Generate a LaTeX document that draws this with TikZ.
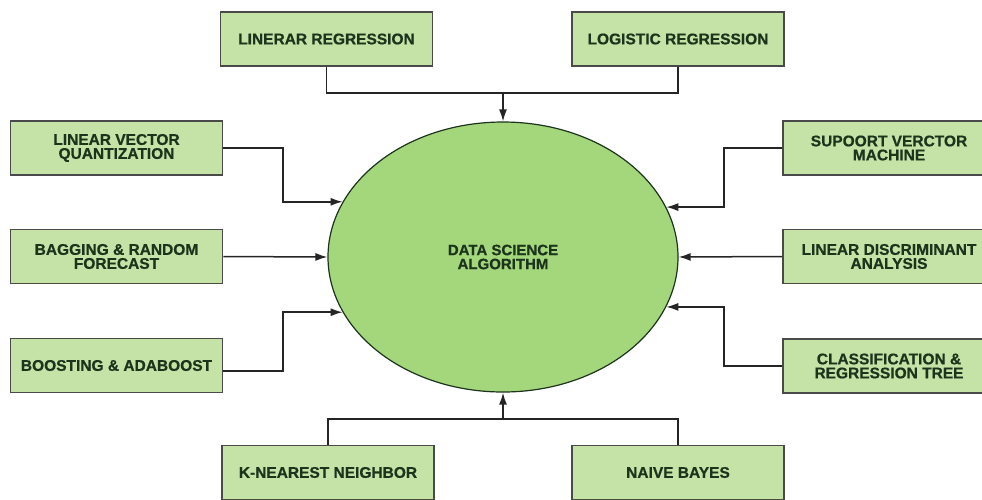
\documentclass[tikz,border=0pt]{standalone}
\usepackage{fontspec}
\setmainfont{Liberation Sans}[BoldFeatures={FakeBold=0.6}]
\usetikzlibrary{shapes.geometric,arrows.meta}
\definecolor{boxfill}{HTML}{C5E3A6}
\definecolor{ellfill}{HTML}{A4D67C}
\definecolor{boxdraw}{HTML}{4A4A4A}
\definecolor{txt}{HTML}{1C331C}
\definecolor{wire}{HTML}{252525}
\tikzset{
  algbox/.style={draw=boxdraw, line width=1.6pt, fill=boxfill, rectangle,
    minimum width=212pt, minimum height=54pt, inner sep=0pt, align=center,
    text=txt, font=\fontsize{15.5}{14}\selectfont\bfseries},
  center/.style={draw=txt, line width=1.2pt, fill=ellfill, ellipse,
    minimum width=350pt, minimum height=270pt, inner sep=0pt, align=center,
    text=txt, font=\fontsize{15}{14}\selectfont\bfseries},
  wireline/.style={draw=wire, line width=1.5pt},
  arr/.style={wireline, -{Latex[length=12pt,width=8pt]}}
}
\begin{document}
\begin{tikzpicture}[x=1pt,y=-1pt]
\clip (0,0) rectangle (982,499);
\useasboundingbox (0,0) rectangle (982,499);

\node[center] (ell) at (503,257) {DATA SCIENCE\\ALGORITHM};

\node[algbox] (lr)   at (326.5,39)  {LINERAR REGRESSION};
\node[algbox] (logr) at (678,39)    {LOGISTIC REGRESSION};

\node[algbox] (lvq)   at (116.5,148)   {LINEAR VECTOR\\QUANTIZATION};
\node[algbox] (bag)   at (116.5,256.5) {BAGGING \& RANDOM\\FORECAST};
\node[algbox] (boost) at (116.5,365.5) {BOOSTING \& ADABOOST};

\node[algbox] (svm)  at (889,148)   {SUPOORT VERCTOR\\MACHINE};
\node[algbox] (lda)  at (889,256.5) {LINEAR DISCRIMINANT\\ANALYSIS};
\node[algbox] (cart) at (889,366)   {CLASSIFICATION \&\\REGRESSION TREE};

\node[algbox] (knn) at (328,472.5) {K-NEAREST NEIGHBOR};
\node[algbox] (nb)  at (678,472.5) {NAIVE BAYES};

% top
\coordinate (tj) at (503,93);
\draw[wireline] (lr.south) |- (tj);
\draw[wireline] (logr.south) |- (tj);
\draw[arr] (tj) -- (ell.north);

% bottom
\coordinate (bj) at (503,419);
\draw[wireline] (knn.north) |- (bj);
\draw[wireline] (nb.north) |- (bj);
\draw[arr] (bj) -- (ell.south);

% left
\coordinate (lvqb) at (283,148);
\draw[arr] (lvq.east) -- (lvqb) |- (ell.161);
\draw[arr] (bag.east) -- (ell.west);
\coordinate (boostb) at (283,371);
\draw[arr] (boost.east |- boostb) -- (boostb) |- (ell.199);

% right
\coordinate (svmb) at (724,148);
\draw[arr] (svm.west) -- (svmb) |- (ell.17);
\draw[arr] (lda.west) -- (ell.east);
\coordinate (cartb) at (724,366);
\draw[arr] (cart.west) -- (cartb) |- (ell.343);
\end{tikzpicture}
\end{document}
